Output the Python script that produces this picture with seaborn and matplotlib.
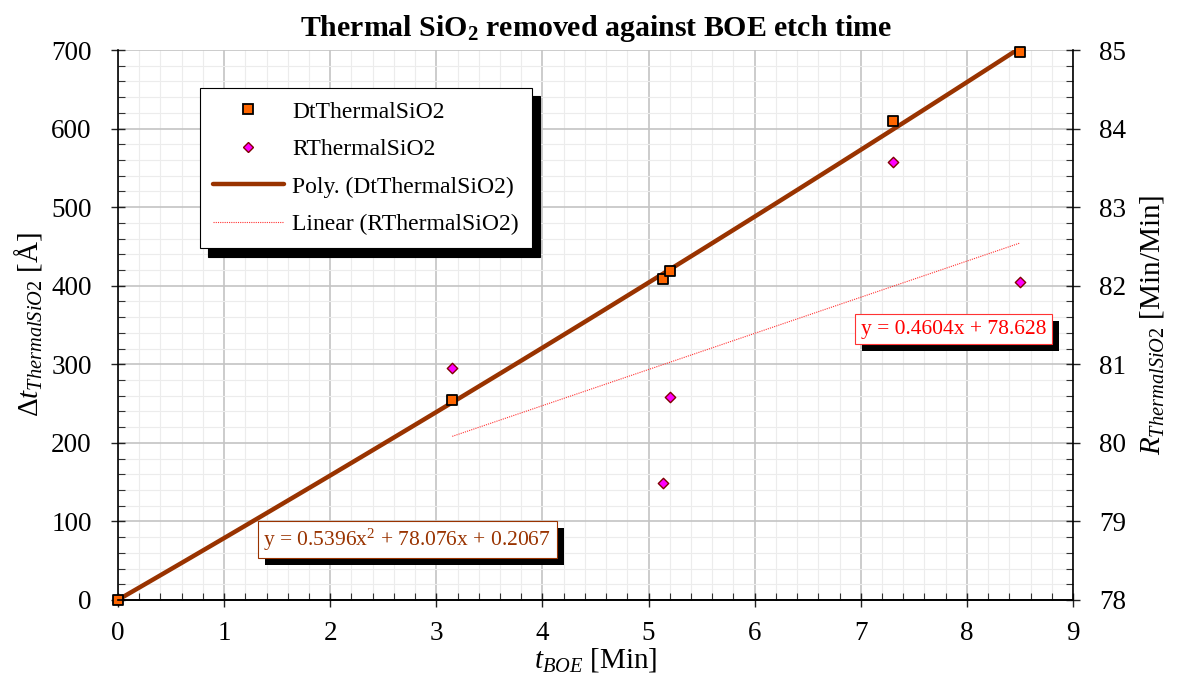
import matplotlib
matplotlib.use("Agg")
import matplotlib.pyplot as plt
import matplotlib.patheffects as pe
from matplotlib.lines import Line2D
from matplotlib.ticker import MultipleLocator
import seaborn as sns
import pandas as pd

# Messwerte
t_boe = [0.0, 3.15, 5.14, 5.2, 7.3, 8.5]
dt_thermal = [0, 255, 408, 419, 610, 697]
t_boe_r = [3.15, 5.14, 5.2, 7.3, 8.5]
r_thermal = [80.95, 79.49, 80.58, 83.57, 82.05]

poly_label = "y = 0.5396x$^2$ + 78.076x + 0.2067"
lin_label = "y = 0.4604x + 78.628"

df_dt = pd.DataFrame({"t": t_boe, "dt": dt_thermal})
df_r = pd.DataFrame({"t": t_boe_r, "r": r_thermal})

sns.set_style("white")
plt.rcParams["font.family"] = ["Liberation Serif", "DejaVu Serif"]
plt.rcParams["mathtext.fontset"] = "custom"
plt.rcParams["mathtext.rm"] = "Liberation Serif"
plt.rcParams["mathtext.it"] = "Liberation Serif:italic"
plt.rcParams["mathtext.bf"] = "Liberation Serif:bold"
plt.rcParams["text.color"] = "black"
plt.rcParams["axes.labelcolor"] = "black"
plt.rcParams["xtick.labelcolor"] = "black"
plt.rcParams["ytick.labelcolor"] = "black"

brown = "#993300"
fig = plt.figure(figsize=(11.77, 6.86), dpi=100)
ax = fig.add_axes([0.1003, 0.1254, 0.8113, 0.8017])
ax2 = ax.twinx()

# Trendlinien
sns.regplot(data=df_dt, x="t", y="dt", order=2, ci=None, scatter=False, ax=ax,
            line_kws=dict(color=brown, lw=3.2, solid_capstyle="round", zorder=3))
sns.regplot(data=df_r, x="t", y="r", ci=None, scatter=False, ax=ax2,
            line_kws=dict(color="#ff3333", lw=0.8, ls=(0, (1, 1)), zorder=2))

# Punkte
sns.scatterplot(data=df_dt, x="t", y="dt", marker="s", s=55, color="#ff6600",
                edgecolor="black", linewidth=1.3, ax=ax, zorder=4, clip_on=False)
sns.scatterplot(data=df_r, x="t", y="r", marker="D", s=28, color="#ff00ff",
                edgecolor="#800000", linewidth=1.0, ax=ax2, zorder=4, clip_on=False)

ax.set_xlim(0, 9)
ax.set_ylim(0, 700)
ax2.set_ylim(78, 85)

ax.xaxis.set_major_locator(MultipleLocator(1))
ax.xaxis.set_minor_locator(MultipleLocator(0.2))
ax.yaxis.set_major_locator(MultipleLocator(100))
ax.yaxis.set_minor_locator(MultipleLocator(20))
ax2.yaxis.set_major_locator(MultipleLocator(1))
ax2.yaxis.set_minor_locator(MultipleLocator(0.2))

ax.grid(which="major", color="#c4c4c4", lw=1.2)
ax.grid(which="minor", color="#ececec", lw=0.8)
ax.set_axisbelow(True)
ax2.grid(False)

for a in (ax, ax2):
    for s in a.spines.values():
        s.set_color("black")
        s.set_linewidth(1.2)
    a.spines["top"].set_visible(False)
ax2.spines["left"].set_visible(False)
ax.spines["right"].set_visible(False)

ax.tick_params(axis="both", which="major", direction="inout", length=10, width=1,
               labelsize=19.5, pad=10, color="#222222")
ax.tick_params(axis="both", which="minor", direction="in", length=5, width=0.8, color="#333333")
ax.tick_params(axis="x", which="both", bottom=True, top=False)
ax.tick_params(axis="y", which="both", left=True, right=False)
ax.tick_params(axis="y", which="major", pad=14)
ax2.tick_params(axis="y", which="major", direction="inout", length=10, width=1,
                labelsize=19.5, pad=14, color="#222222")
ax2.tick_params(axis="y", which="minor", direction="in", length=5, width=0.8, color="#333333")

ax.set_xlabel(r"$t_{BOE}$ [Min]", fontsize=21, labelpad=0)
ax.set_ylabel(r"$\Delta t_{ThermalSiO2}$ [Å]", fontsize=21, labelpad=5)
ax2.set_ylabel(r"$R_{ThermalSiO2}$ [Min/Min]", fontsize=21, labelpad=8)
ax.set_title(r"Thermal SiO$_\mathbf{2}$ removed against BOE etch time",
             fontsize=21.5, fontweight="bold", pad=10)

# Legende
handles = [
    Line2D([], [], ls="", marker="s", ms=7, mfc="#ff6600", mec="black", mew=1.3),
    Line2D([], [], ls="", marker="D", ms=5, mfc="#ff00ff", mec="#800000", mew=1.0),
    Line2D([], [], color=brown, lw=3.2, solid_capstyle="round"),
    Line2D([], [], color="#ff3333", lw=0.8, ls=(0, (1, 1))),
]
labels = ["DtThermalSiO2", "RThermalSiO2", "Poly. (DtThermalSiO2)", "Linear (RThermalSiO2)"]
leg = ax2.legend(handles, labels, loc="upper left", bbox_to_anchor=(0.0858, 0.9309),
                 borderaxespad=0, fontsize=17, frameon=True, fancybox=False,
                 edgecolor="black", framealpha=1, borderpad=0.55, labelspacing=0.68,
                 handlelength=3.0, handletextpad=0.35,
                 shadow={"color": "black", "alpha": 1, "ox": 6, "oy": -6})
leg.get_frame().set_linewidth(0.8)

# Gleichungen
shadow = [pe.SimplePatchShadow(offset=(5, -5), shadow_rgbFace="black", alpha=1), pe.Normal()]
t1 = ax.text(1.37, 69, poly_label, fontsize=15.5, color=brown,
             bbox=dict(boxstyle="square,pad=0.25", fc="white", ec=brown, lw=0.8), zorder=6)
t1.get_bbox_patch().set_path_effects(shadow)
t2 = ax.text(7.0, 339, lin_label, fontsize=15.5, color="#ff0000",
             bbox=dict(boxstyle="square,pad=0.25", fc="white", ec="#ff3333", lw=0.8), zorder=6)
t2.get_bbox_patch().set_path_effects(shadow)

fig.savefig("out.png", dpi=100)
